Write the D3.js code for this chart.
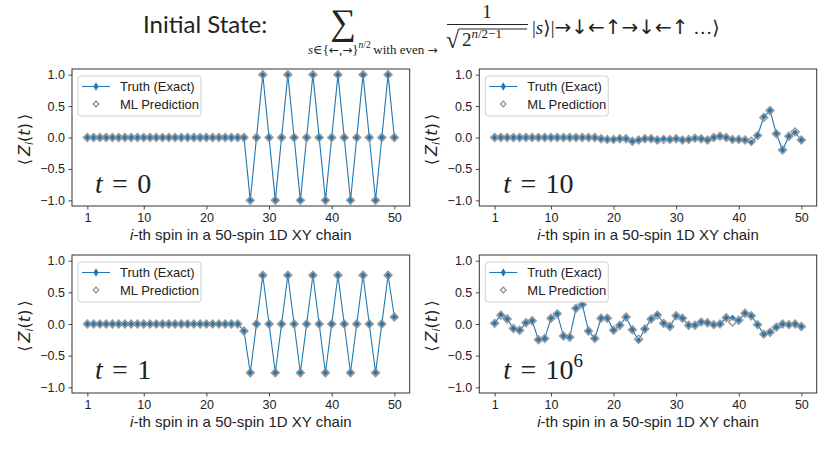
<!DOCTYPE html>
<html>
<head>
<meta charset="utf-8">
<script src="https://cdn.jsdelivr.net/npm/d3@7"></script>
<style>
  html, body { margin: 0; padding: 0; background: #fff; }
  svg text { fill: #222; }
</style>
</head>
<body>
<div id="chart"></div>
<script>
// spin index along the chain
const spins = [1, 2, 3, 4, 5, 6, 7, 8, 9, 10, 11, 12, 13, 14, 15, 16, 17, 18, 19, 20,
  21, 22, 23, 24, 25, 26, 27, 28, 29, 30, 31, 32, 33, 34, 35, 36, 37, 38, 39, 40,
  41, 42, 43, 44, 45, 46, 47, 48, 49, 50]

// <Z_i(t)> at t = 0
const truthT0 = [0, 0, 0, 0, 0, 0, 0, 0, 0, 0, 0, 0, 0, 0, 0, 0, 0, 0, 0, 0,
  0, 0, 0, 0, 0, 0, -1, 0, 1, 0, -1, 0, 1, 0, -1, 0, 1, 0, -1, 0,
  1, 0, -1, 0, 1, 0, -1, 0, 1, 0]
const predT0 = [0, 0, 0, 0, 0, 0, 0, 0, 0, 0, 0, 0, 0, 0, 0, 0, 0, 0, 0, 0,
  0, 0, 0, 0, 0, 0, -1, 0, 1, 0, -1, 0, 1, 0, -1, 0, 1, 0, -1, 0,
  1, 0, -1, 0, 1, 0, -1, 0, 1, 0]

// t = 1
const truthT1 = [0, 0, 0, 0, 0, 0, 0, 0, 0, 0, 0, 0, 0, 0, 0, 0, 0, 0, 0, 0,
  0, 0, 0, 0, 0, -0.11, -0.77, 0, 0.77, 0, -0.77, 0, 0.77, 0, -0.77, 0, 0.77, 0, -0.77, 0,
  0.77, 0, -0.77, 0, 0.77, 0, -0.77, 0, 0.77, 0.11]
const predT1 = [0, 0, 0, 0, 0, 0, 0, 0, 0, 0, 0, 0, 0, 0, 0, 0, 0, 0, 0, 0,
  0, 0, 0, 0, 0, -0.11, -0.77, 0, 0.77, 0, -0.77, 0, 0.77, 0, -0.77, 0, 0.77, 0, -0.77, 0,
  0.77, 0, -0.77, 0, 0.77, 0, -0.77, 0, 0.77, 0.11]

// t = 10
const truthT10 = [0, 0, 0, 0, 0, 0, 0, 0, 0, 0, 0, 0, 0, 0, 0, 0, 0, -0.02, -0.03, -0.03,
  -0.02, -0.02, -0.06, -0.04, -0.02, -0.02, -0.04, -0.02, -0.03, -0.02, -0.04, -0.03, -0.01, -0.02, -0.04, 0, 0.02, 0, -0.03, -0.03,
  -0.04, -0.08, 0.03, 0.33, 0.43, 0.06, -0.2, 0.02, 0.08, -0.04]
const predT10 = [0, 0, 0, 0, 0, 0, 0, 0, 0, 0, 0, 0, 0, 0, 0, 0, 0, -0.02, -0.03, -0.03,
  -0.02, -0.02, -0.06, -0.04, -0.02, -0.02, -0.04, -0.03, -0.03, -0.02, -0.04, -0.03, -0.01, -0.02, -0.04, 0, 0.02, 0, -0.03, -0.03,
  -0.04, -0.06, 0.03, 0.32, 0.43, 0.06, -0.2, 0.02, 0.09, -0.04]

// t = 10^6
const truthT1e6 = [0.01, 0.15, 0.08, -0.07, -0.1, 0.02, 0.05, -0.25, -0.23, 0.09,
  0.16, -0.19, -0.21, 0.25, 0.31, -0.11, -0.23, 0.09, 0.09, -0.1,
  -0.02, 0.11, -0.09, -0.26, -0.08, 0.08, 0.15, 0.01, -0.04, 0.13,
  0.09, -0.02, -0.02, 0.03, 0.02, -0.01, 0, 0.1, 0.1, 0.06,
  0.17, 0.13, -0.01, -0.16, -0.13, -0.05, 0, -0.01, 0, -0.04]
const predT1e6 = [0.01, 0.14, 0.08, -0.07, -0.1, 0.02, 0.05, -0.25, -0.23, 0.09,
  0.16, -0.19, -0.21, 0.25, 0.31, -0.11, -0.23, 0.09, 0.09, -0.1,
  -0.02, 0.11, -0.09, -0.24, -0.08, 0.08, 0.14, 0.01, -0.04, 0.13,
  0.09, -0.02, -0.02, 0.03, 0.02, -0.01, 0, 0.1, 0.03, 0.06,
  0.17, 0.13, -0.01, -0.16, -0.13, -0.05, 0, -0.01, 0, -0.04]

const xTicks = [1, 10, 20, 30, 40, 50]
const yTicks = [-1, -0.5, 0, 0.5, 1]
const legendLabels = ['Truth (Exact)', 'ML Prediction']
const timeLabels = ['0', '1', '10', '10']
const timeSups = ['', '', '', '6']

const WIDTH = 830
const HEIGHT = 453
const BLUE = '#1f77b4'
const GREY = '#8c8c8c'
const SANS = '"Liberation Sans", Arial, Helvetica, sans-serif'
const SERIF = '"Liberation Serif", "DejaVu Serif", serif'
const ARROWS = '"DejaVu Sans", sans-serif'

// panel frames in page pixels
const panels = [
  { truth: truthT0, pred: predT0, t: 0, box: { x0: 72, x1: 409.7, y0: 69, y1: 206 } },
  { truth: truthT10, pred: predT10, t: 2, box: { x0: 479.3, x1: 816.7, y0: 69, y1: 206 } },
  { truth: truthT1, pred: predT1, t: 1, box: { x0: 72, x1: 409.7, y0: 255, y1: 393 } },
  { truth: truthT1e6, pred: predT1e6, t: 3, box: { x0: 479.3, x1: 816.7, y0: 255, y1: 393 } }
]

const svg = d3.select('#chart').append('svg')
  .attr('width', WIDTH)
  .attr('height', HEIGHT)
  .style('display', 'block')

// diamond marker (square turned 45 degrees, like matplotlib 'D')
const diamond = (halfDiag) => d3.symbol().type(d3.symbolSquare).size(2 * halfDiag * halfDiag)()

// --- TITLE ---
const title = svg.append('g').attr('class', 'title')
title.append('text')
  .attr('x', 143).attr('y', 33)
  .style('font-family', 'Lato, "Open Sans", sans-serif')
  .style('font-size', '24px')
  .text('Initial State:')

title.append('text')
  .attr('x', 343).attr('y', 34)
  .attr('text-anchor', 'middle')
  .style('font-family', SERIF)
  .style('font-size', '36px')
  .text('\u2211')

const sub = title.append('text')
  .attr('x', 308).attr('y', 54)
  .style('font-family', SERIF)
  .style('font-size', '13px')
sub.append('tspan').style('font-style', 'italic').text('s')
sub.append('tspan').text('\u2208{')
sub.append('tspan').style('font-family', ARROWS).style('font-size', '12px').text('\u2190')
sub.append('tspan').text(',')
sub.append('tspan').style('font-family', ARROWS).style('font-size', '12px').text('\u2192')
sub.append('tspan').text('}')
sub.append('tspan').attr('dy', -6).style('font-size', '9.5px').style('font-style', 'italic').text('n')
sub.append('tspan').style('font-size', '9.5px').text('/2')
sub.append('tspan').attr('dy', 6).text('\u2009with even ')
sub.append('tspan').style('font-family', ARROWS).style('font-size', '12px').text('\u2192')

// fraction 1 / sqrt(2^(n/2-1))
title.append('text')
  .attr('x', 487).attr('y', 18)
  .attr('text-anchor', 'middle')
  .style('font-family', SERIF)
  .style('font-size', '19px')
  .text('1')
title.append('line')
  .attr('x1', 447).attr('x2', 528).attr('y1', 24.5).attr('y2', 24.5)
  .attr('stroke', '#222').attr('stroke-width', 1)
title.append('text')
  .attr('x', 446).attr('y', 48)
  .style('font-family', SERIF)
  .style('font-size', '24px')
  .text('\u221A')
title.append('line')
  .attr('x1', 459).attr('x2', 527).attr('y1', 29).attr('y2', 29)
  .attr('stroke', '#222').attr('stroke-width', 1)
const rad = title.append('text')
  .attr('x', 462).attr('y', 46)
  .style('font-family', SERIF)
  .style('font-size', '19px')
rad.append('tspan').text('2')
rad.append('tspan').attr('dy', -8).style('font-size', '13px').style('font-style', 'italic').text('n')
rad.append('tspan').style('font-size', '13px').text('/2\u22121')

const ket = title.append('text')
  .attr('x', 532).attr('y', 34)
  .style('font-family', SERIF)
  .style('font-size', '19px')
ket.append('tspan').text('|')
ket.append('tspan').style('font-style', 'italic').text('s')
ket.append('tspan').text('\u27E9|')
ket.append('tspan').style('font-family', ARROWS).style('font-size', '20px')
  .text('\u2192\u2193\u2190\u2191\u2192\u2193\u2190\u2191')
ket.append('tspan').text(' \u2026\u27E9')

// --- PANELS ---
panels.forEach(p => {
  const { x0, x1, y0, y1 } = p.box
  const x = d3.scaleLinear().domain([-1.45, 52.45]).range([x0, x1])
  const y = d3.scaleLinear().domain([-1.09, 1.09]).range([y1, y0])
  const g = svg.append('g')

  // axes
  g.append('g')
    .attr('transform', `translate(0,${y1})`)
    .call(d3.axisBottom(x).tickValues(xTicks).tickSize(3.5).tickPadding(3.5).tickSizeOuter(0))
    .call(a => a.select('.domain').remove())
  g.append('g')
    .attr('transform', `translate(${x0},0)`)
    .call(d3.axisLeft(y).tickValues(yTicks).tickSize(3.5).tickPadding(3.5)
      .tickFormat(d => d3.format('.1f')(d).replace('-', '\u2212')))
    .call(a => a.select('.domain').remove())
  g.selectAll('.tick line').attr('stroke', '#333').attr('stroke-width', 0.9)
  g.selectAll('.tick text')
    .style('font-family', SANS)
    .style('font-size', '12.5px')
    .style('fill', '#222')

  // frame
  g.append('rect')
    .attr('x', x0).attr('y', y0)
    .attr('width', x1 - x0).attr('height', y1 - y0)
    .attr('fill', 'none').attr('stroke', '#333').attr('stroke-width', 1)

  // x label
  const xl = g.append('text')
    .attr('x', (x0 + x1) / 2).attr('y', y1 + 34)
    .attr('text-anchor', 'middle')
    .style('font-family', SANS)
    .style('font-size', '15px')
  xl.append('tspan').style('font-style', 'italic').text('i')
  xl.append('tspan').text('-th spin in a 50-spin 1D XY chain')

  // y label
  const yl = g.append('text')
    .attr('transform', `translate(${x0 - 42},${(y0 + y1) / 2 + 2}) rotate(-90)`)
    .attr('text-anchor', 'middle')
    .style('font-family', '"DejaVu Sans", sans-serif')
    .style('font-size', '16px')
  yl.append('tspan').text('\u27E8\u2009')
  yl.append('tspan').style('font-style', 'italic').text('Z')
  yl.append('tspan').attr('dy', 3).style('font-size', '11px').style('font-style', 'italic').text('i')
  yl.append('tspan').attr('dy', -3).text('(')
  yl.append('tspan').style('font-style', 'italic').text('t')
  yl.append('tspan').text(')\u2009\u27E9')

  // truth line + markers
  const line = d3.line().x((d, i) => x(spins[i])).y(d => y(d))
  g.append('path')
    .datum(p.truth)
    .attr('d', line)
    .attr('fill', 'none')
    .attr('stroke', BLUE)
    .attr('stroke-width', 1.1)
  g.selectAll('.truth')
    .data(p.truth)
    .enter().append('path')
    .attr('class', 'truth')
    .attr('d', diamond(3))
    .attr('transform', (d, i) => `translate(${x(spins[i])},${y(d)}) rotate(45)`)
    .attr('fill', BLUE)

  // ML prediction markers (hollow grey diamonds)
  g.selectAll('.pred')
    .data(p.pred)
    .enter().append('path')
    .attr('class', 'pred')
    .attr('d', diamond(3.9))
    .attr('transform', (d, i) => `translate(${x(spins[i])},${y(d)}) rotate(45)`)
    .attr('fill', 'none')
    .attr('stroke', GREY)
    .attr('stroke-width', 1.5)
    .attr('stroke-opacity', 0.9)

  // time label
  const tl = g.append('text')
    .attr('x', x0 + (p.t >= 2 ? 24 : 23)).attr('y', y0 + 124)
    .style('font-family', SERIF)
    .style('font-size', '28px')
  tl.append('tspan').style('font-style', 'italic').text('t')
  tl.append('tspan').text('\u2004=\u2004' + timeLabels[p.t])
  if (timeSups[p.t]) {
    tl.append('tspan').attr('dy', -12).style('font-size', '19px').text(timeSups[p.t])
  }

  // legend
  const lg = g.append('g').attr('transform', `translate(${x0 + 6},${y0 + 7})`)
  lg.append('rect')
    .attr('width', 123).attr('height', 40)
    .attr('rx', 3)
    .attr('fill', '#fff').attr('fill-opacity', 0.8)
    .attr('stroke', '#d0d0d0').attr('stroke-width', 1)
  lg.append('line')
    .attr('x1', 4).attr('x2', 32).attr('y1', 10.5).attr('y2', 10.5)
    .attr('stroke', BLUE).attr('stroke-width', 1.1)
  lg.append('path')
    .attr('d', d3.symbol().type(d3.symbolDiamond).size(22)())
    .attr('transform', 'translate(18,10.5)')
    .attr('fill', BLUE)
  lg.append('path')
    .attr('d', diamond(2.8))
    .attr('transform', 'translate(18,28) rotate(45)')
    .attr('fill', 'none').attr('stroke', GREY).attr('stroke-width', 1.2)
  lg.selectAll('.lgtext')
    .data(legendLabels)
    .enter().append('text')
    .attr('class', 'lgtext')
    .attr('x', 42)
    .attr('y', (d, i) => 15 + i * 17.5)
    .style('font-family', SANS)
    .style('font-size', '13px')
    .text(d => d)
})
</script>
</body>
</html>
